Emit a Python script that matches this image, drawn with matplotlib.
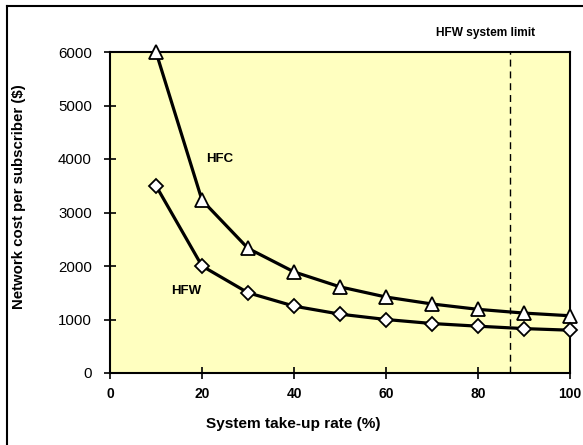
import matplotlib
matplotlib.use("Agg")
import matplotlib.pyplot as plt
from matplotlib.lines import Line2D

rate = [10, 20, 30, 40, 50, 60, 70, 80, 90, 100]
hfc = [6000, 3230, 2330, 1890, 1610, 1420, 1290, 1190, 1120, 1070]
hfw = [3500, 2000, 1500, 1250, 1100, 1000, 925, 875, 830, 800]
limit_x = 87
xticks = [0, 20, 40, 60, 80, 100]
yticks = [0, 1000, 2000, 3000, 4000, 5000, 6000]

plt.rcParams['font.family'] = ['Liberation Sans', 'DejaVu Sans']

fig = plt.figure(figsize=(5.83, 4.45), dpi=100)
ax = fig.add_axes([110/583, 1-373/445, 460/583, 321/445])
ax.set_facecolor('#FFFFC0')

ax.plot(rate, hfc, color='black', lw=2.3, marker='^', ms=9.5,
        mfc='white', mec='black', mew=1.3, clip_on=False, zorder=3)
ax.plot(rate, hfw, color='black', lw=2.3, marker='D', ms=7,
        mfc='white', mec='black', mew=1.3, clip_on=False, zorder=3)
ax.axvline(limit_x, color='black', lw=1.0, ls=(0, (5, 3.5)), zorder=2)

ax.set_xlim(0, 100)
ax.set_ylim(0, 6000)
ax.set_xticks(xticks)
ax.set_yticks(yticks)
ax.tick_params(direction='inout', length=8, width=1.2)
ax.tick_params(axis='y', labelsize=10.8, pad=9)
ax.tick_params(axis='x', labelsize=10, pad=6)
for lab in ax.get_xticklabels():
    lab.set_fontweight('bold')
for s in ax.spines.values():
    s.set_linewidth(1.5)

ax.set_xlabel('System take-up rate (%)', fontsize=11.1, fontweight='bold')
ax.set_ylabel('Network cost per subscriber ($)', fontsize=10.8, fontweight='bold')
ax.xaxis.set_label_coords(0.398, -0.16)
ax.yaxis.set_label_coords(-(110 - 18.6) / 460, 0.551)
ax.xaxis.label.set_va('center')
ax.yaxis.label.set_va('center')

ax.text(20.8, 4000, 'HFC', fontsize=9.5, fontweight='bold', ha='left', va='center')
ax.text(13.3, 1530, 'HFW', fontsize=9.5, fontweight='bold', ha='left', va='center')
ax.text(81.7, 6360, 'HFW system limit', fontsize=8.6, fontweight='bold',
        ha='center', va='center', clip_on=False)

x0 = 6.7/583
top = 1 - 5.7/445
fig.add_artist(Line2D([x0, x0], [0, top], color='black', lw=1.5, transform=fig.transFigure))
fig.add_artist(Line2D([x0, 1], [top, top], color='black', lw=1.5, transform=fig.transFigure))

fig.savefig('out.png', dpi=100)
